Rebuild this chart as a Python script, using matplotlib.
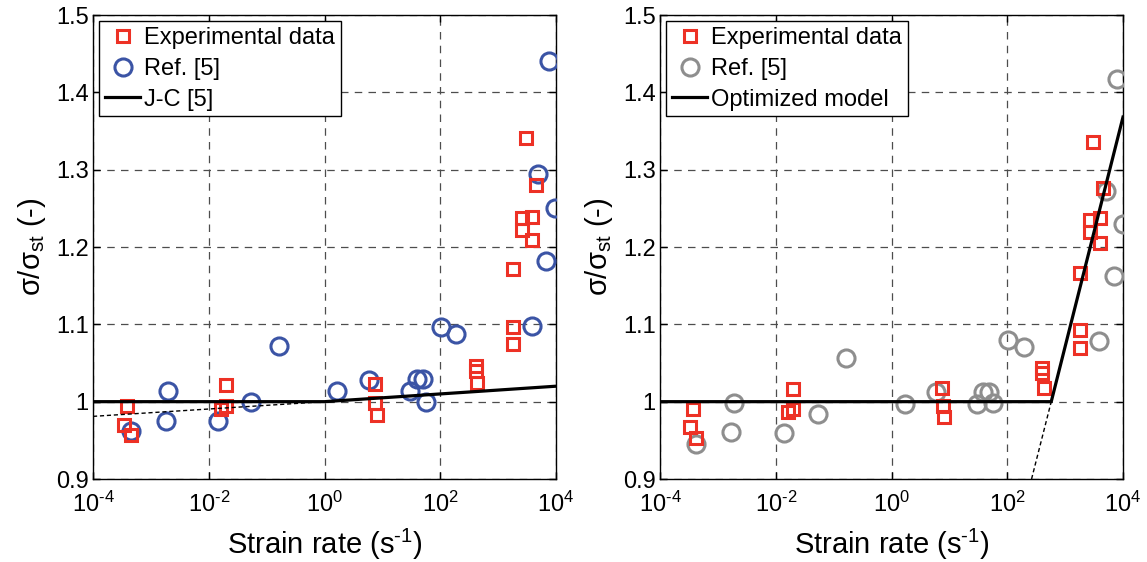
import numpy as np
import matplotlib
matplotlib.use('Agg')
import matplotlib.pyplot as plt
from matplotlib.ticker import FixedLocator, NullLocator

plt.rcParams['font.family'] = ['Liberation Sans', 'DejaVu Sans']
plt.rcParams['mathtext.fontset'] = 'custom'
plt.rcParams['mathtext.rm'] = 'Liberation Sans'
plt.rcParams['mathtext.it'] = 'Liberation Sans:italic'
plt.rcParams['mathtext.default'] = 'regular'

# --- left panel data (log10 of strain rate, normalised stress) ---
exp_left_log = [-3.41, -3.46, -3.34, -1.70, -1.70, -1.78, 0.88, 0.88, 0.90,
                2.61, 2.61, 2.63, 3.25, 3.25, 3.25, 3.49, 3.65, 3.42, 3.59, 3.42, 3.59]
exp_left_val = [0.994, 0.970, 0.957, 1.021, 0.994, 0.990, 1.023, 0.998, 0.983,
                1.046, 1.040, 1.024, 1.171, 1.097, 1.075, 1.341, 1.280, 1.237, 1.239, 1.222, 1.209]
ref_left_log = [-3.35, -2.71, -2.74, -1.84, -1.27, -0.79, 0.21, 0.77, 1.47, 1.60,
                1.70, 1.76, 2.01, 2.28, 3.58, 3.83, 3.88, 3.69, 3.98]
ref_left_val = [0.962, 1.014, 0.975, 0.975, 1.000, 1.072, 1.014, 1.028, 1.014, 1.029,
                1.029, 1.000, 1.097, 1.088, 1.098, 1.182, 1.441, 1.294, 1.250]
jc_log = [-4, 0, 2, 4]
jc_val = [1.0, 1.0, 1.010, 1.020]
jc_ext_log = [-4, 0]
jc_ext_val = [0.981, 1.0]

# --- right panel data ---
exp_right_log = [-3.43, -3.48, -3.37, -1.70, -1.71, -1.79, 0.875, 0.89, 0.90,
                 2.60, 2.60, 2.63, 3.26, 3.26, 3.26, 3.48, 3.66, 3.43, 3.60, 3.43, 3.60]
exp_right_val = [0.991, 0.967, 0.953, 1.017, 0.990, 0.987, 1.018, 0.995, 0.980,
                 1.043, 1.037, 1.018, 1.166, 1.093, 1.069, 1.336, 1.276, 1.235, 1.237, 1.220, 1.205]
ref_right_log = [-3.37, -2.73, -2.77, -1.85, -1.27, -0.79, 0.225, 0.77, 1.47, 1.58,
                 1.68, 1.75, 2.02, 2.29, 3.58, 3.84, 3.90, 3.70, 4.00]
ref_right_val = [0.945, 0.998, 0.961, 0.960, 0.984, 1.056, 0.997, 1.012, 0.997, 1.012,
                 1.012, 0.998, 1.080, 1.071, 1.079, 1.163, 1.417, 1.272, 1.230]
opt_log = [-4, 2.76, 4]
opt_val = [1.0, 1.0, 1.368]
opt_ext_log = [2.42, 2.76]
opt_ext_val = [0.9, 1.0]

y_ticks = [0.9, 1.0, 1.1, 1.2, 1.3, 1.4, 1.5]
y_labels = ['0.9', '1', '1.1', '1.2', '1.3', '1.4', '1.5']
x_ticks = [1e-4, 1e-2, 1e0, 1e2, 1e4]
x_labels = [r'$10^{\text{-4}}$', r'$10^{\text{-2}}$', r'$10^{0}$', r'$10^{2}$', r'$10^{4}$']

red = '#ED3125'
blue = '#3B54A5'
gray = '#8E8E8E'

fig = plt.figure(figsize=(11.47, 5.62), dpi=100)
ax1 = fig.add_axes([93 / 1147, 83 / 562, 463 / 1147, 464 / 562])
ax2 = fig.add_axes([660 / 1147, 83 / 562, 463 / 1147, 464 / 562])


def rate(logs):
    return 10.0 ** np.asarray(logs, dtype=float)


def draw_panel(ax, exp_log, exp_val, ref_log, ref_val, ref_color,
               line_log, line_val, ext_log, ext_val, line_label):
    ax.plot(rate(ref_log), ref_val, 'o', ms=12.3, mfc='none', mec=ref_color,
            mew=2.2, label='Ref. [5]', zorder=3)
    ax.plot(rate(exp_log), exp_val, 's', ms=9.3, mfc='none', mec=red,
            mew=2.2, label='Experimental data', zorder=4)
    ax.plot(rate(ext_log), ext_val, '--', color='black', lw=1.0,
            dashes=(3, 2), zorder=5)
    ax.plot(rate(line_log), line_val, '-', color='black', lw=2.3,
            label=line_label, zorder=6)

    ax.set_xscale('log')
    ax.set_xlim(1e-4, 1e4)
    ax.set_ylim(0.9, 1.5)
    ax.xaxis.set_major_locator(FixedLocator(x_ticks))
    ax.xaxis.set_minor_locator(NullLocator())
    ax.set_xticklabels(x_labels)
    ax.set_yticks(y_ticks)
    ax.set_yticklabels(y_labels)
    ax.tick_params(direction='in', length=5, width=1, top=True, right=True,
                   labelsize=17)
    ax.tick_params(axis='x', pad=9)
    ax.tick_params(axis='y', pad=3)
    ax.grid(True, color='0.3', linestyle=(0, (6, 5)), linewidth=0.9)
    for s in ax.spines.values():
        s.set_linewidth(1.0)
    ax.set_xlabel(r'Strain rate (s$^{\text{-1}}$)', fontsize=21, labelpad=7)
    ax.set_ylabel('σ/σ$_{st}$ (-)', fontsize=21, labelpad=6)

    handles, labels = ax.get_legend_handles_labels()
    order = [labels.index('Experimental data'), labels.index('Ref. [5]'), labels.index(line_label)]
    leg = ax.legend([handles[i] for i in order], [labels[i] for i in order],
                    loc='upper left', fontsize=17, fancybox=False, framealpha=1,
                    edgecolor='black', borderaxespad=0.26, handlelength=1.5,
                    handletextpad=0.17, borderpad=0.25, labelspacing=0.37)
    leg.get_frame().set_linewidth(1.0)


draw_panel(ax1, exp_left_log, exp_left_val, ref_left_log, ref_left_val, blue,
           jc_log, jc_val, jc_ext_log, jc_ext_val, 'J-C [5]')
draw_panel(ax2, exp_right_log, exp_right_val, ref_right_log, ref_right_val, gray,
           opt_log, opt_val, opt_ext_log, opt_ext_val, 'Optimized model')

fig.savefig('out.png', dpi=100)
